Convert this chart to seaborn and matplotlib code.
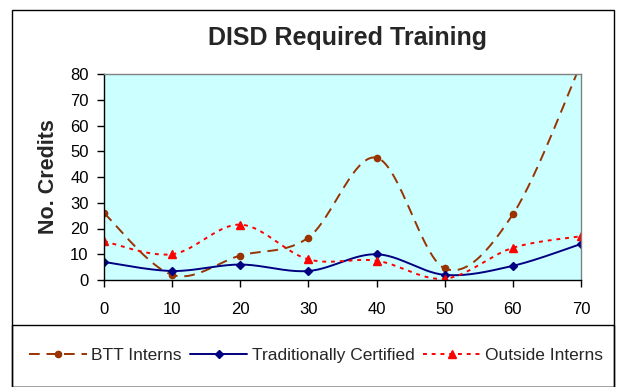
import numpy as np
import matplotlib
matplotlib.use("Agg")
import matplotlib.pyplot as plt
import seaborn as sns
from matplotlib.patches import Rectangle
from matplotlib.lines import Line2D

x_vals = [0, 10, 20, 30, 40, 50, 60, 70]
btt = [26, 2, 9.5, 16.5, 47.5, 4.5, 25.5, 84]
trad = [7, 3.5, 6, 3.5, 10, 2, 5.5, 14]
outside = [15, 10, 21.5, 8, 7.5, 0.5, 12.5, 17]
series_names = ["BTT Interns", "Traditionally Certified", "Outside Interns"]


def smooth(xs, ys, n=30):
    xs = np.asarray(xs, float); ys = np.asarray(ys, float)
    P = np.column_stack([xs, ys])
    out = []
    for i in range(len(P) - 1):
        p0 = P[i - 1] if i > 0 else P[i]
        p1 = P[i]; p2 = P[i + 1]
        p3 = P[i + 2] if i + 2 < len(P) else P[i + 1]
        c1 = p1 + (p2 - p0) / 6.0
        c2 = p2 - (p3 - p1) / 6.0
        t = np.linspace(0, 1, n)[:, None]
        seg = ((1 - t) ** 3) * p1 + 3 * ((1 - t) ** 2) * t * c1 + 3 * (1 - t) * t ** 2 * c2 + t ** 3 * p2
        out.append(seg if i == 0 else seg[1:])
    s = np.vstack(out)
    return s[:, 0], s[:, 1]


sns.set_style("white")
plt.rcParams['font.family'] = ['Liberation Sans', 'DejaVu Sans']

fig = plt.figure(figsize=(6.19, 3.87), dpi=100)
ax = fig.add_axes([104 / 619, 1 - 280 / 387, (581 - 104) / 619, (280 - 74) / 387])
ax.set_facecolor("#CCFFFF")

styles = [
    dict(color="#993300", ls=(0, (5.5, 3.5)), marker="o", ms=4.5, lw=1.4),
    dict(color="#000080", ls="-", marker="D", ms=4, lw=1.4),
    dict(color="#FF0000", ls=(0, (2, 2.5)), marker="^", ms=6, lw=1.4),
]
handles = []
for data, st, name in zip([btt, trad, outside], styles, series_names):
    sx, sy = smooth(x_vals, data)
    sns.lineplot(x=sx, y=sy, ax=ax, color=st["color"], lw=st["lw"], linestyle=st["ls"], sort=False,
                 estimator=None)
    ax.plot(x_vals, data, ls="none", marker=st["marker"], ms=st["ms"], color=st["color"],
            markeredgecolor=st["color"], clip_on=True)
    handles.append(Line2D([0], [0], color=st["color"], lw=st["lw"], linestyle=st["ls"],
                          marker=st["marker"], ms=st["ms"]))

ax.set_xlim(0, 70)
ax.set_ylim(0, 80)
ax.set_xticks(x_vals)
ax.set_yticks(range(0, 81, 10))
ax.tick_params(axis="both", labelsize=12, length=5, width=1, direction="out", colors="black")
ax.tick_params(axis="x", pad=11)
ax.tick_params(axis="y", pad=6)
ax.xaxis.set_ticks_position("bottom")
ax.yaxis.set_ticks_position("left")
for s in ["top", "right"]:
    ax.spines[s].set_color("#808080")
    ax.spines[s].set_linewidth(1)
for s in ["left", "bottom"]:
    ax.spines[s].set_color("black")
    ax.spines[s].set_linewidth(1)
ax.set_xlabel("")
ax.set_ylabel("No. Credits", fontsize=15.5, fontweight="bold", labelpad=8)

fig.text(348 / 619, 1 - 38 / 387, "DISD Required Training", ha="center", va="center",
         fontsize=18, fontweight="bold")

# outer frame and legend frame
fig.patches.append(Rectangle((12 / 619, 0), (614 - 12) / 619, 1 - 10 / 387, transform=fig.transFigure,
                             fill=False, edgecolor="black", lw=1))
fig.patches.append(Rectangle((12 / 619, 0), (614 - 12) / 619, 1 - 325 / 387, transform=fig.transFigure,
                             fill=False, edgecolor="black", lw=1))

fig.legend(handles, series_names, loc="center", bbox_to_anchor=(316 / 619, 1 - 355 / 387), ncol=3,
           frameon=False, fontsize=12.5, handlelength=3.3, handletextpad=0.25, columnspacing=0.5,
           borderpad=0, borderaxespad=0)

fig.savefig("out.png", dpi=100)
